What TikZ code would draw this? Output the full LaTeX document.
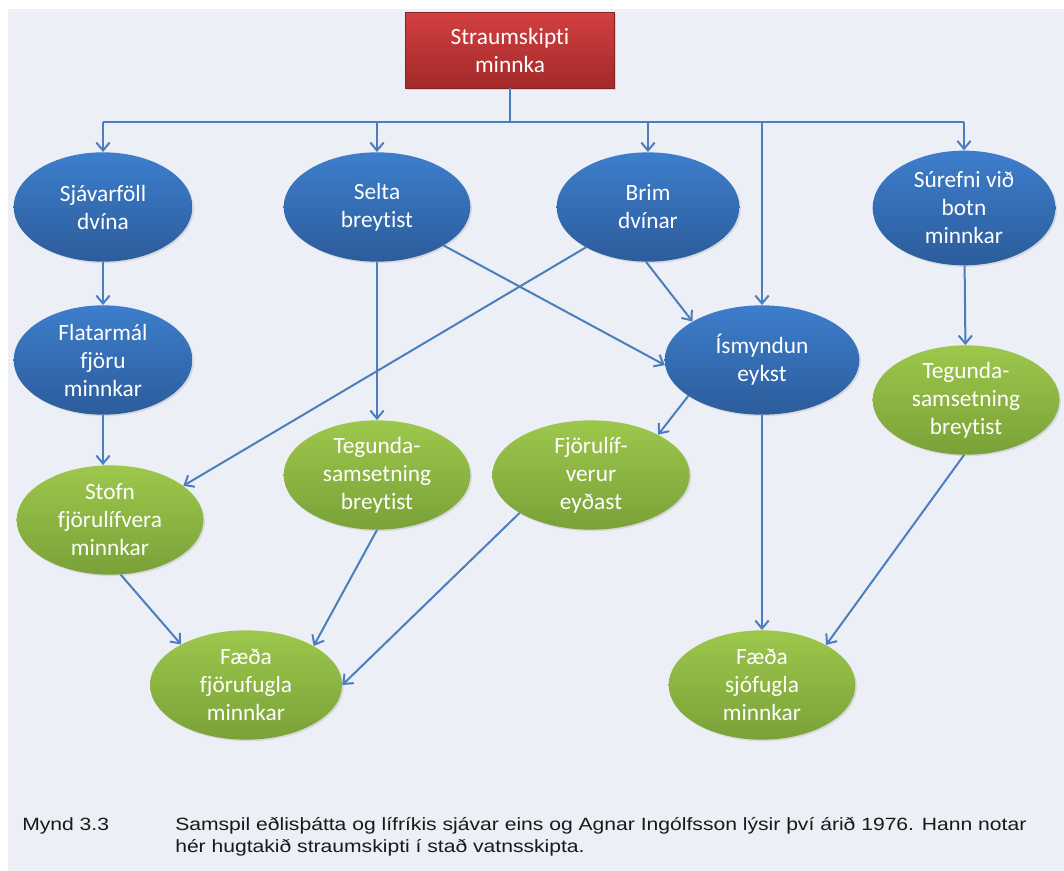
\documentclass[tikz,border=0pt]{standalone}
\usepackage{fontspec}
\setmainfont{Carlito}[Ligatures=NoCommon]
\newfontfamily\capfont{Liberation Sans}[FakeStretch=1.19]
\usepackage{xcolor}
\usepackage{tikz}
\usetikzlibrary{positioning, arrows.meta, shapes.geometric, shadows}

\definecolor{panel}{HTML}{ECEFF5}
\definecolor{linkblue}{HTML}{4A7EBD}
\definecolor{blueTop}{HTML}{3D7ECC}
\definecolor{blueBot}{HTML}{2C5C9B}
\definecolor{greenTop}{HTML}{9DC74C}
\definecolor{greenBot}{HTML}{7AA138}
\definecolor{redTop}{HTML}{D33F3F}
\definecolor{redBot}{HTML}{A22A2A}

\begin{document}
\begin{tikzpicture}[
    x=0.75pt, y=-0.75pt,
    cause/.style={ellipse, inner sep=0pt, minimum width=140pt, minimum height=82pt,
        top color=blueTop, bottom color=blueBot, text=white, align=center,
        font=\fontsize{17.5}{21}\selectfont,
        drop shadow={shadow xshift=1.2pt, shadow yshift=-1.2pt, opacity=0.2}},
    effect/.style={cause, top color=greenTop, bottom color=greenBot},
    source/.style={rectangle, draw=redBot!80!black, inner sep=0pt,
        minimum width=157pt, minimum height=57pt,
        top color=redTop, bottom color=redBot, text=white, align=center,
        font=\fontsize{17.5}{21}\selectfont,
        drop shadow={shadow xshift=1.2pt, shadow yshift=-1.2pt, opacity=0.25}},
    link/.style={draw=linkblue, line width=1.5pt},
    arr/.style={link, -{Straight Barb[length=6pt, width=10pt]}},
    caption/.style={inner sep=0pt, font=\capfont\fontsize{13.3}{16.3}\selectfont, text=black!90},
]
% Panel
\fill[white] (0,0) rectangle (1064,871);
\fill[panel] (8,9) rectangle (1064,871);

% Top box
\node[source] (top) at (510,50) {Straumskipti\\minnka};

% Physical changes
\node[cause, minimum width=134pt] (sja) at (103,207) {Sjávarföll\\dvína};
\node[cause] (sel) at (377,207) {Selta\\breytist};
\node[cause, minimum width=137pt] (brim) at (648,207) {Brim\\dvínar};
\node[cause, minimum width=137pt, minimum height=86pt] (sur) at (964,208) {Súrefni við\\botn\\minnkar};
\node[cause, minimum width=134pt] (flat) at (103,360) {Flatarmál\\fjöru\\minnkar};
\node[cause, minimum width=146pt] (ism) at (762,360) {Ísmyndun\\eykst};

% Biological effects
\node[effect] (tegR) at (966,400) {Tegunda-\\samsetning\\breytist};
\node[effect] (stofn) at (110,520) {Stofn\\fjörulífvera\\minnkar};
\node[effect] (tegM) at (377,475) {Tegunda-\\samsetning\\breytist};
\node[effect, minimum width=148pt] (fjor) at (591,475) {Fjörulíf-\\verur\\eyðast};
\node[effect, minimum width=144pt] (fugl) at (246,685) {Fæða\\fjörufugla\\minnkar};
\node[effect] (sjof) at (762,685) {Fæða\\sjófugla\\minnkar};

% Bus from top box
\coordinate (bus) at (510,122);
\draw[link] (top.south) -- (bus);
\draw[link] (bus -| sja) -- (bus -| sur);
\draw[arr] (bus -| sja) -- (sja);
\draw[arr] (bus -| sel) -- (sel);
\draw[arr] (bus -| brim) -- (brim);
\draw[arr] (bus -| ism) -- (ism);
\draw[arr] (bus -| sur) -- (sur);

% Links between causes
\draw[arr] (sja) -- (flat);
\draw[arr] (flat.south) -- (flat.south |- stofn.north);
\draw[arr] (sel) -- (tegM);
\draw[arr] (sel.330) -- (ism.183);
\draw[arr] (brim.213) -- (stofn.25);
\draw[arr] (brim.268) -- (ism.151);
\draw[arr] (ism.206) -- (fjor.31);
\draw[arr] (ism) -- (sjof);
\draw[arr] (sur) -- (tegR);

% Links to birds
\draw[arr] (tegR.268) -- (sjof.32);
\draw[arr] (stofn.281) -- (fugl.148);
\draw[arr] (tegM.south) -- (fugl.30);
\draw[arr] (fjor.208) -- (fugl.east);

% Caption
\node[caption, anchor=north west] (num) at (22,817) {Mynd 3.3};
\node[caption, anchor=north west, align=left] (txt) at (175,817)
  {Samspil eðlisþátta og lífríkis sjávar eins og Agnar Ingólfsson lýsir því árið 1976. Hann notar\\
   hér hugtakið straumskipti í stað vatnsskipta.};
\end{tikzpicture}
\end{document}
